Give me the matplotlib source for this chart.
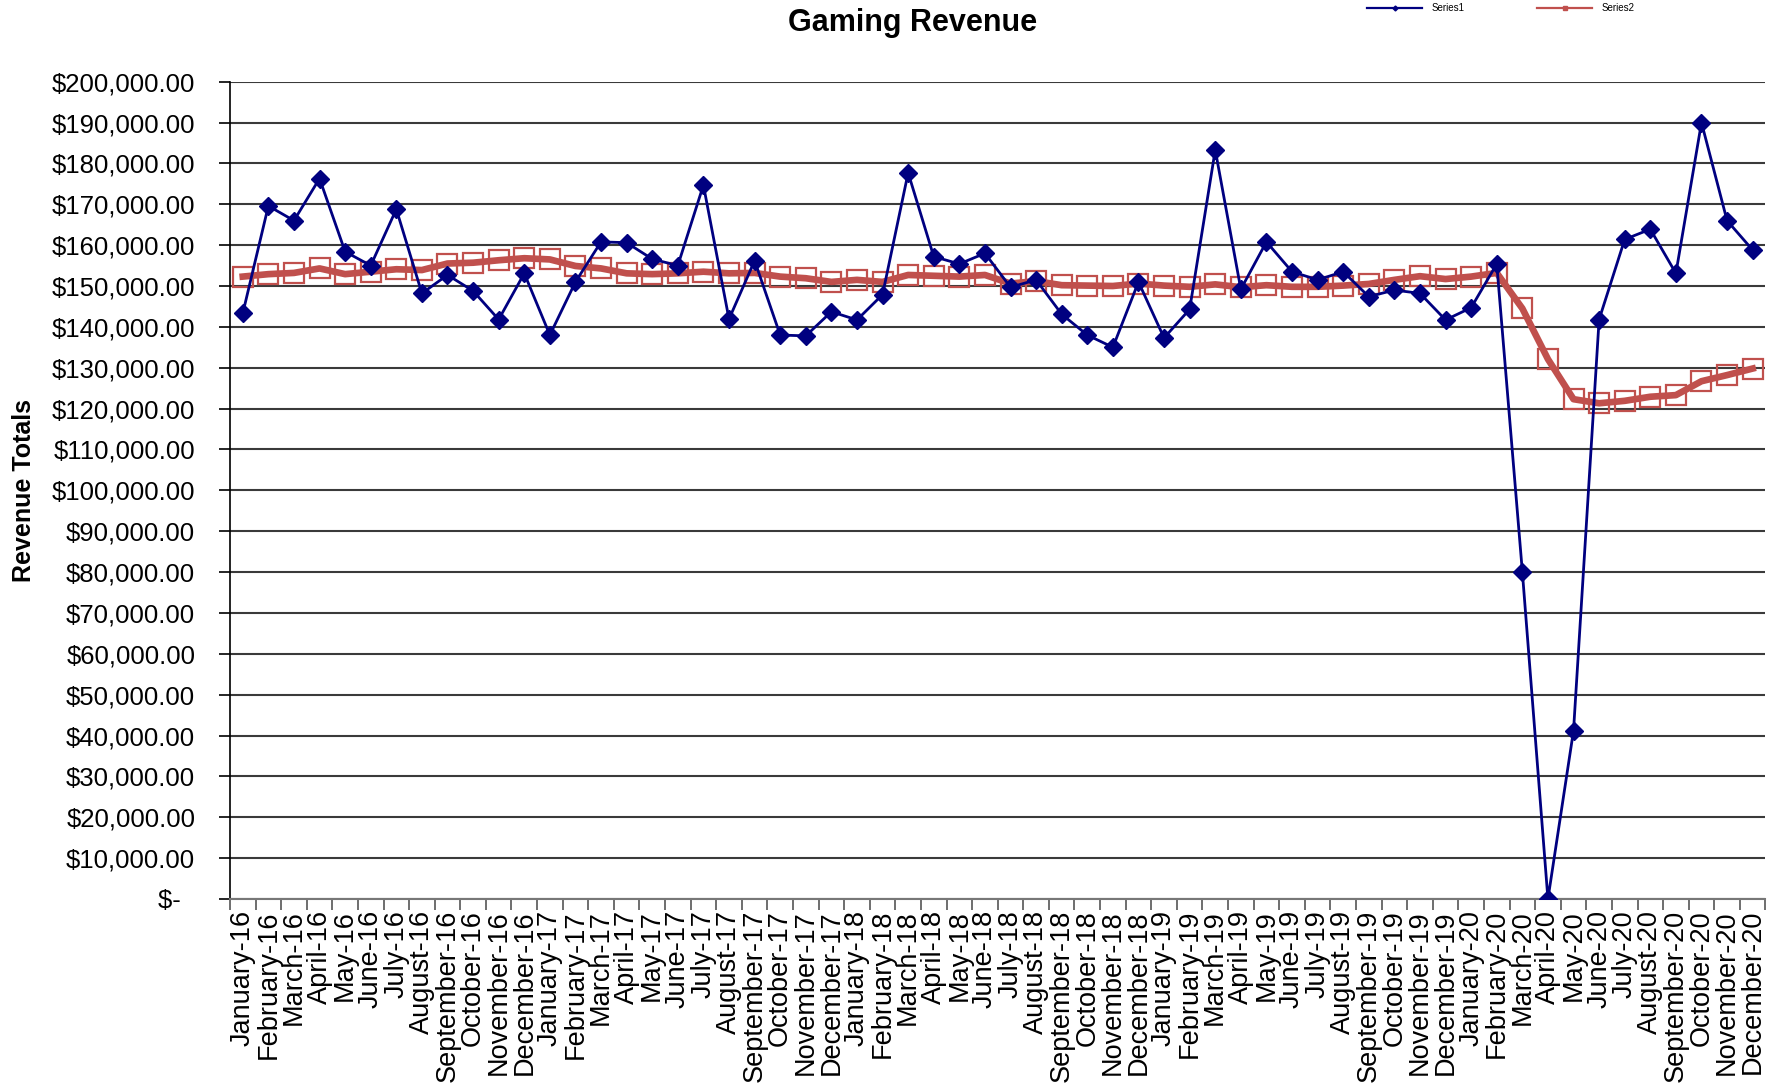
import numpy as np
import matplotlib
matplotlib.use('Agg')
import matplotlib.pyplot as plt
from matplotlib.lines import Line2D
from matplotlib.ticker import FuncFormatter, MultipleLocator

# month labels, January-16 ... December-20
month_names = ['January', 'February', 'March', 'April', 'May', 'June', 'July',
               'August', 'September', 'October', 'November', 'December']
years = ['16', '17', '18', '19', '20']
months = [m + '-' + y for y in years for m in month_names]

# monthly gaming revenue (thousands of dollars)
series1 = [143.3, 169.6, 166.0, 176.3, 158.4, 155.0, 168.8, 148.2, 152.7, 148.8, 141.8, 153.1,
           138.0, 151.0, 160.8, 160.6, 156.6, 155.0, 174.7, 141.9, 156.2, 138.0, 137.8, 143.7,
           141.7, 147.9, 177.7, 157.2, 155.4, 158.0, 149.7, 151.5, 143.1, 138.0, 135.0, 151.0,
           137.3, 144.3, 183.3, 149.2, 160.8, 153.5, 151.5, 153.5, 147.4, 149.0, 148.2, 141.7,
           144.7, 155.4, 80.1, 0.0, 41.2, 141.8, 161.4, 163.9, 153.1, 190.0, 166.0, 158.8]

# trailing average line (thousands of dollars)
series2 = [152.3, 152.9, 153.2, 154.3, 152.9, 153.5, 154.1, 153.9, 155.5, 155.7, 156.3, 156.8,
           156.5, 154.9, 154.3, 153.1, 152.9, 153.1, 153.5, 153.1, 153.2, 152.3, 151.9, 151.0,
           151.5, 151.0, 152.7, 152.5, 152.3, 152.7, 150.6, 151.2, 150.2, 150.1, 150.0, 150.6,
           150.1, 149.8, 150.4, 149.7, 150.2, 149.8, 149.8, 150.1, 150.5, 151.5, 152.4, 151.7,
           152.3, 153.2, 144.5, 132.1, 122.3, 121.3, 121.9, 122.9, 123.3, 126.7, 128.2, 129.8]

navy = '#000080'
red = '#C0504D'

plt.rcParams['font.family'] = ['Liberation Sans', 'DejaVu Sans']

figure = plt.figure(figsize=(17.69, 10.86), dpi=100)
axes = figure.add_axes([0.130, 0.1722, 0.868, 0.7526])

x = np.arange(len(months))
s1 = np.array(series1) * 1000
s2 = np.array(series2) * 1000

# series 2 first so the blue line sits on top of it
axes.plot(x, s2, color=red, lw=4.8, marker='s', markersize=14, markerfacecolor='none',
          markeredgecolor=red, markeredgewidth=1.6, zorder=3)
axes.plot(x, s1, color=navy, lw=2.0, marker='D', markersize=9, markerfacecolor=navy,
          markeredgecolor=navy, zorder=4)

axes.set_xlim(-0.5, len(months) - 0.5)
axes.set_ylim(0, 200000)

# y axis: accounting style dollar labels
def dollars(v, pos):
    if v == 0:
        return '$-  '
    return '${:,.2f}'.format(v)

axes.yaxis.set_major_locator(MultipleLocator(10000))
axes.yaxis.set_major_formatter(FuncFormatter(dollars))
axes.tick_params(axis='y', labelsize=18.5, length=8, width=1.2, pad=17, color='black')
axes.grid(axis='y', color='#3a3a3a', lw=1.5, zorder=1)
axes.set_axisbelow(True)

# x axis: labels centred on categories, tick marks on the boundaries
axes.set_xticks(x)
axes.set_xticklabels(months, rotation=90, fontsize=19.5)
axes.set_xticks(np.arange(-0.5, len(months)), minor=True)
axes.tick_params(axis='x', which='major', length=0, pad=8)
axes.tick_params(axis='x', which='minor', length=8, width=1.2, color='#555555')

for side in ['top', 'right']:
    axes.spines[side].set_visible(False)
axes.spines['left'].set_linewidth(1.2)
axes.spines['bottom'].set_color('#777777')
axes.spines['bottom'].set_linewidth(1.5)

axes.set_ylabel('Revenue Totals', fontsize=18, fontweight='bold')
axes.yaxis.set_label_coords(-0.126, 0.5)
figure.text(0.516, 0.979, 'Gaming Revenue', ha='center', va='center', fontsize=22, fontweight='bold')

# small legend at the top right
handles = [Line2D([], [], color=navy, lw=1.6, marker='D', markersize=2.5),
           Line2D([], [], color=red, lw=1.6, marker='s', markersize=2.5)]
figure.legend(handles, ['Series1', 'Series2'], loc='upper left', bbox_to_anchor=(0.768, 1.005),
              ncol=2, frameon=False, fontsize=7, handlelength=5.6, columnspacing=7.5, handletextpad=1.0)

figure.savefig('out.png', dpi=100)
